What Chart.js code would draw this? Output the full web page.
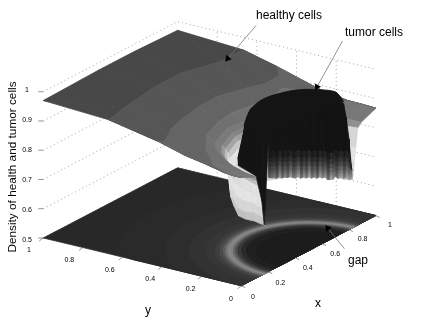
<!DOCTYPE html>
<html lang="en">
<head>
<meta charset="UTF-8">
<title>Density of health and tumor cells</title>
<script src="https://cdn.jsdelivr.net/npm/chart.js"></script>
<style>
  html, body { margin: 0; background: #fff; }
  canvas { display: block; }
</style>
</head>
<body>
<canvas id="c" width="424" height="318"></canvas>
<script>
// tick labels
const zTicks = [0.5, 0.6, 0.7, 0.8, 0.9, 1];
const xTicks = [0, 0.2, 0.4, 0.6, 0.8, 1];
const yTicks = [0, 0.2, 0.4, 0.6, 0.8, 1];

// healthy cells: polar grid round the tumor centre (x=.5, y=0)
// first rows sit at a fixed radius, the outer rows follow the gray band edges, 2 = edge of the square
const angles = [0, 8, 16, 30, 45, 53.3, 63.435, 80, 95, 116.565, 126.8, 140, 150, 160, 170, 175, 180];
const radii = [
  [.325, .325, .325, .325, .325, .325, .325, .325, .325, .325, .325, .325, .325, .325, .325, .325, .325],
  [.33, .33, .33, .33, .33, .33, .33, .33, .33, .33, .33, .33, .33, .33, .33, .33, .33],
  [.335, .335, .335, .335, .335, .335, .335, .335, .335, .335, .335, .335, .335, .335, .335, .335, .335],
  [.34, .34, .34, .34, .34, .34, .34, .34, .34, .34, .34, .34, .34, .34, .34, .34, .34],
  [.35, .35, .35, .35, .35, .35, .35, .35, .35, .35, .35, .35, .35, .35, .35, .35, .35],
  [.365, .365, .365, .365, .365, .365, .365, .365, .365, .365, .365, .365, .365, .365, .365, .365, .365],
  [.39, .39, .39, .39, .39, .39, .39, .39, .39, .39, .39, .39, .39, .39, .39, .39, .39],
  [2, 2, 2, .56, .58, .50, .47, .45, .43, .43, .43, .45, .46, .50, 2, 2, 2],
  [2, 2, 2, 2, .64, .555, .54, .535, .525, .55, .58, .63, 2, 2, 2, 2, 2],
  [2, 2, 2, 2, 2, .837, .75, .742, .733, .78, .834, 2, 2, 2, 2, 2, 2],
  [2, 2, 2, 2, 2, 2, 2, 2, 2, 2, 2, 2, 2, 2, 2, 2, 2]
];
const healthyZ = [
  [.665, .66, .67, .66, .665, .66, .66, .66, .66, .70, .687, .68, .66, .663, .669, .667, .665],
  [.68, .68, .70, .72, .72, .72, .72, .76, .76, .76, .72, .71, .69, .69, .70, .695, .69],
  [.70, .70, .74, .76, .76, .76, .76, .80, .80, .80, .76, .75, .73, .73, .735, .73, .72],
  [.72, .73, .77, .79, .79, .79, .80, .825, .825, .82, .795, .79, .775, .77, .77, .765, .76],
  [.765, .77, .81, .81, .81, .81, .82, .84, .84, .835, .82, .825, .82, .815, .81, .805, .80],
  [.832, .83, .835, .83, .83, .83, .84, .85, .85, .845, .838, .845, .84, .835, .83, .825, .825],
  [.845, .847, .85, .85, .85, .85, .85, .86, .862, .858, .858, .862, .86, .855, .85, .848, .845],
  [.867, .869, .87, .88, .89, .88, .88, .88, .88, .88, .88, .88, .88, .88, .873, .87, .87],
  [.867, .869, .87, .886, .918, .918, .918, .918, .918, .918, .918, .922, .90, .887, .873, .87, .87],
  [.867, .869, .87, .886, .928, .957, .957, .957, .957, .957, .958, .925, .90, .887, .873, .87, .87],
  [.867, .869, .87, .886, .928, .957, .97, .975, .975, .97, .958, .925, .90, .887, .873, .87, .87]
];
// height -> gray for the healthy sheet, flat bands at the top of the range
const healthyLevels = [.66, .70, .75, .79, .81, .83, .84, .85, .86, .87, .875, .877, .914, .916, .949, .951, .97];
const healthyGrays = [180, 210, 228, 226, 200, 165, 140, 124, 118, 112, 108, 100, 100, 86, 86, 72, 72];
// from which row the sheet lies in front of the tumor, per angle column (99 = never)
const nearFromRadius = [99, 99, 99, 99, 99, 99, 99, 99, 99, 99, .35, .35, .35, .365, .39, .39, .39];

// tumor cells: plateau outline, side wall and front curtain
const plateauZ = 0.947;
const plateauAngles = [0, 8.5, 16, 26, 41, 56, 72, 94, 114, 143, 165, 175, 180];
const plateauRim = [.26, .306, .351, .359, .358, .334, .31, .276, .26, .283, .29, .295, .30];
const wallAngles = [94, 114, 143, 165, 175, 180];
const wallTop = [.276, .26, .283, .29, .295, .30];
const wallFoot = [.29, .30, .31, .29, .31, .33];
const wallFootZ = [.80, .80, .82, .81, .74, .667];
const curtainX = [.2, .22, .24, .26, .28, .3, .32, .34, .36, .38, .4, .42, .44, .46, .48, .5, .52, .54, .56, .58, .6, .62, .64, .66, .68, .7, .72, .74, .76, .78, .8, .82];
const curtainFootZ = [.822, .817, .812, .805, .806, .796, .795, .788, .786, .779, .772, .772, .762, .761, .753, .752, .743, .742, .733, .733, .724, .723, .709, .705, .70, .706, .694, .694, .685, .685, .672, .67];
const curtainTopZ = [.947, .947, .947, .947, .947, .947, .947, .947, .947, .947, .947, .947, .947, .947, .947, .947, .947, .947, .947, .947, .947, .947, .947, .947, .947, .947, .947, .947, .94, .887, .81, .70];
const curtainRise = [0, .008, .016, .026, .04, .055, .07, .09];
const curtainGrays = [135, 125, 110, 92, 72, 52, 38, 26];
const curtainStripe = [.7, .8, .9, .7, 1.1, .8, 1, .8, 1.15, .85, 1, 1.2, .8, 1.1, .9, 1.25, .85, 1.05, .8, 1.2, .95, 1.1, .8, 1.25, 1.05, .8, 1.1, 1.2, .9, 1.2, 1.1, 1.2];

// floor map (z=.5): gray against distance from the tumor centre
const floorAngles = [0, 6, 12, 18, 24, 30, 36, 42, 48, 54, 60, 63.435, 66, 72, 78, 84, 90, 96, 102, 108, 114, 116.565, 120, 126, 132, 138, 144, 150, 156, 162, 168, 174, 180];
const floorRadii = [2, .8, .6, .5, .43, .39, .37, .355, .345, .335, .325, .315, .305, .295, .28, .26, .22];
const floorGrays = [40, 42, 45, 50, 54, 62, 75, 95, 118, 135, 130, 105, 80, 58, 42, 32, 28];

const TUMOR_GRAY = 20;

// 3D -> picture, same as the axes box of the original
function px(x, y) { return 242 + 137 * x - 202 * y; }
function py(x, y, z) { return 289 - 72 * x - 49 * y - 300 * (z - 0.5); }
function pt(x, y, z) { return { x: px(x, y), y: py(x, y, z) }; }

// polar grid point, clamped to the unit square
function polar(deg, r) {
  const a = deg * Math.PI / 180, c = Math.cos(a), s = Math.sin(a);
  let max = 1e9;
  if (c > 1e-6) max = Math.min(max, 0.5 / c);
  if (c < -1e-6) max = Math.min(max, -0.5 / c);
  if (s > 1e-6) max = Math.min(max, 1 / s);
  const k = Math.min(r, max);
  return [0.5 + k * c, k * s];
}
function polar3(deg, r, z) { const p = polar(deg, r); return pt(p[0], p[1], z); }

function gray(v) { v = Math.round(Math.min(255, v)); return 'rgb(' + v + ',' + v + ',' + v + ')'; }
function healthyGray(z) {
  if (z <= healthyLevels[0]) return healthyGrays[0];
  for (let i = 1; i < healthyLevels.length; i++) {
    if (z <= healthyLevels[i]) {
      const t = (z - healthyLevels[i - 1]) / (healthyLevels[i] - healthyLevels[i - 1]);
      return healthyGrays[i - 1] + t * (healthyGrays[i] - healthyGrays[i - 1]);
    }
  }
  return healthyGrays[healthyGrays.length - 1];
}

function poly(points, g, tension) {
  const c = gray(g);
  return {
    data: points.concat([points[0]]), showLine: true, fill: 'shape', tension: tension || 0,
    backgroundColor: c, borderColor: c, borderWidth: 0.8, pointRadius: 0, clip: false
  };
}
function line(points, color, width, dash) {
  return {
    data: points, showLine: true, fill: false, tension: 0,
    borderColor: color, borderWidth: width, borderDash: dash || [], pointRadius: 0, clip: false
  };
}
function arrow(from, to) {
  const rot = Math.atan2(to.x - from.x, -(to.y - from.y)) * 180 / Math.PI;
  return [
    line([from, to], '#777', 0.8),
    {
      data: [to], showLine: false, pointStyle: 'triangle', pointRadius: 4, pointRotation: rot,
      backgroundColor: '#000', borderColor: '#000', borderWidth: 0, clip: false
    }
  ];
}

const layers = [];

// back walls, dotted
const dots = [1, 3];
zTicks.forEach(function (z) {
  layers.push(line([pt(0, 1, z), pt(1, 1, z), pt(1, 0, z)], '#8a8a8a', 0.8, dots));
});
yTicks.slice(1, 5).forEach(function (y) {
  layers.push(line([pt(1, y, 0.5), pt(1, y, 1)], '#8a8a8a', 0.8, dots));
});

// floor, one disc per radius, biggest first
floorRadii.forEach(function (r, j) {
  layers.push(poly(floorAngles.map(function (a) { return polar3(a, r, 0.5); }), floorGrays[j]));
});

// healthy sheet cells
const farCells = [], nearCells = [];
for (let j = 0; j < radii.length - 1; j++) {
  for (let i = 0; i < angles.length - 1; i++) {
    const z = healthyZ[j][i] + healthyZ[j][i + 1] + healthyZ[j + 1][i] + healthyZ[j + 1][i + 1];
    const a = polar(angles[i] + (angles[i + 1] - angles[i]) / 2, (radii[j][i] + radii[j + 1][i]) / 2);
    const cell = {
      d: 72 * a[0] + 49 * a[1],
      set: poly([
        polar3(angles[i], radii[j][i], healthyZ[j][i]), polar3(angles[i + 1], radii[j][i + 1], healthyZ[j][i + 1]),
        polar3(angles[i + 1], radii[j + 1][i + 1], healthyZ[j + 1][i + 1]), polar3(angles[i], radii[j + 1][i], healthyZ[j + 1][i])
      ], healthyGray(z / 4))
    };
    if (radii[j][i] >= nearFromRadius[i]) nearCells.push(cell); else farCells.push(cell);
  }
}
function byDepth(a, b) { return b.d - a.d; }
farCells.sort(byDepth).forEach(function (c) { layers.push(c.set); });

// tumor wall
for (let i = 0; i < wallAngles.length - 1; i++) {
  layers.push(poly([
    polar3(wallAngles[i], wallTop[i], plateauZ), polar3(wallAngles[i + 1], wallTop[i + 1], plateauZ),
    polar3(wallAngles[i + 1], wallFoot[i + 1], wallFootZ[i + 1]), polar3(wallAngles[i], wallFoot[i], wallFootZ[i])
  ], TUMOR_GRAY));
}
// tumor plateau
layers.push(poly(plateauAngles.map(function (a, i) { return polar3(a, plateauRim[i], plateauZ); }), TUMOR_GRAY, 0.35));
// tumor front curtain, black top then the lighter fringe
for (let i = 0; i < curtainX.length - 1; i++) {
  const x0 = curtainX[i], x1 = curtainX[i + 1];
  const lastRise = curtainRise[curtainRise.length - 1];
  layers.push(poly([
    pt(x0, 0, curtainTopZ[i]), pt(x1, 0, curtainTopZ[i + 1]),
    pt(x1, 0, Math.min(curtainTopZ[i + 1], curtainFootZ[i + 1] + lastRise)), pt(x0, 0, Math.min(curtainTopZ[i], curtainFootZ[i] + lastRise))
  ], TUMOR_GRAY));
  for (let k = 0; k < curtainRise.length - 1; k++) {
    layers.push(poly([
      pt(x0, 0, Math.min(curtainTopZ[i], curtainFootZ[i] + curtainRise[k + 1])), pt(x1, 0, Math.min(curtainTopZ[i + 1], curtainFootZ[i + 1] + curtainRise[k + 1])),
      pt(x1, 0, Math.min(curtainTopZ[i + 1], curtainFootZ[i + 1] + curtainRise[k])), pt(x0, 0, Math.min(curtainTopZ[i], curtainFootZ[i] + curtainRise[k]))
    ], curtainStripe[i] * (curtainGrays[k] + curtainGrays[k + 1]) / 2));
  }
}
// healthy sheet in front of the tumor
nearCells.sort(byDepth).forEach(function (c) { layers.push(c.set); });

// tick marks
zTicks.forEach(function (z) {
  const p = pt(0, 1, z);
  layers.push(line([p, { x: p.x - 5, y: p.y }], '#666', 0.7));
});
yTicks.forEach(function (y) {
  const p = pt(0, y, 0.5);
  layers.push(line([p, { x: p.x - 4, y: p.y + 3 }], '#666', 0.7));
});
xTicks.forEach(function (x) {
  const p = pt(x, 0, 0.5);
  layers.push(line([p, { x: p.x + 4, y: p.y + 2 }], '#666', 0.7));
});

// arrows
arrow({ x: 257, y: 22 }, { x: 228, y: 56 }).forEach(function (d) { layers.push(d); });
arrow({ x: 345, y: 38 }, { x: 319, y: 85 }).forEach(function (d) { layers.push(d); });
arrow({ x: 347, y: 251 }, { x: 330, y: 230 }).forEach(function (d) { layers.push(d); });

const labelPlugin = {
  id: 'labels',
  afterDraw: function (chart) {
    const ctx = chart.ctx;
    ctx.save();
    ctx.fillStyle = '#000';
    ctx.textAlign = 'center';
    ctx.textBaseline = 'middle';
    ctx.font = '12px "Liberation Sans"';
    ctx.fillText('healthy cells', 289, 16);
    ctx.fillText('tumor cells', 374, 33);
    ctx.fillText('gap', 358, 261);
    ctx.fillText('x', 318, 304);
    ctx.fillText('y', 148, 311);
    ctx.save();
    ctx.translate(13, 167);
    ctx.rotate(-Math.PI / 2);
    ctx.font = '11.8px "Liberation Sans"';
    ctx.fillText('Density of health and tumor cells', 0, 0);
    ctx.restore();
    ctx.font = '7px "Liberation Sans"';
    ctx.fillStyle = '#000';
    zTicks.forEach(function (z) {
      const p = pt(0, 1, z);
      ctx.fillText(String(z), p.x - 13, p.y);
    });
    yTicks.forEach(function (y) {
      const p = pt(0, y, 0.5);
      ctx.fillText(String(y), p.x - 11, p.y + 10);
    });
    xTicks.forEach(function (x) {
      const p = pt(x, 0, 0.5);
      ctx.fillText(String(x), p.x + 11, p.y + 8);
    });
    ctx.restore();
  }
};

new Chart(document.getElementById('c'), {
  type: 'scatter',
  data: { datasets: layers.slice().reverse() },
  options: {
    responsive: false,
    animation: false,
    layout: { padding: 0 },
    plugins: { legend: { display: false }, tooltip: { enabled: false } },
    scales: {
      x: { type: 'linear', min: 0, max: 424, display: false },
      y: { type: 'linear', min: 0, max: 318, reverse: true, display: false }
    }
  },
  plugins: [labelPlugin]
});
</script>
</body>
</html>
